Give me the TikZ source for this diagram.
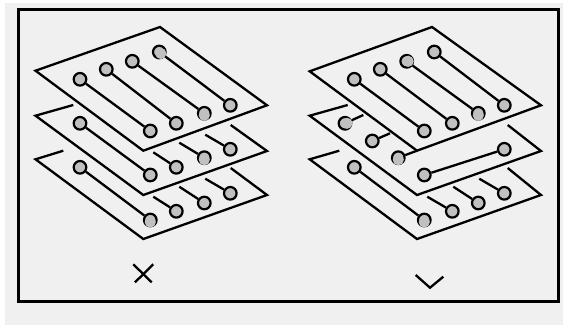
\documentclass[tikz,border=0pt]{standalone}
\usetikzlibrary{arrows.meta}

\begin{document}
\begin{tikzpicture}[
  x=1pt, y=-1pt,
  edge line/.style = {draw=black, line width=2.3pt, line join=miter},
  trace/.style     = {draw=black, line width=2.3pt, line cap=butt},
  frame line/.style= {draw=black, line width=3pt},
  pin disc/.style  = {circle, draw=black, fill=pin gray, line width=2.2pt,
                      minimum size=12.6pt, inner sep=0pt},
  lit disc/.style  = {fill=pin gray},
  mark line/.style = {draw=black, line width=2.3pt},
]
\definecolor{pin gray}{HTML}{C0C0C0}
\definecolor{panel gray}{HTML}{F0F0F0}

% ── Page and frame ─────────────────────────────────────────────────────────
\useasboundingbox (0,0) rectangle (563,325);
\fill[panel gray] (5,3) rectangle (563,325);
\draw[frame line] (18.5,9.5) rectangle (558.5,301.5);

% ── Plane outlines ─────────────────────────────────────────────────────────
% Left stack: three sheets, 44 px apart
\coordinate (la) at (35.5,70.7);
\coordinate (lb) at (160,27);
\coordinate (lc) at (267,105.3);
\coordinate (ld) at (143.3,150.7);
\draw[edge line] (la) -- (lb) -- (lc) -- (ld) -- cycle;

\coordinate (lma) at (73.3,105);
\coordinate (lmb) at (35.5,115.7);
\coordinate (lmc) at (143.3,195);
\coordinate (lmd) at (267,151);
\coordinate (lme) at (230.7,125);
\draw[edge line] (lma) -- (lmb) -- (lmc) -- (lmd) -- (lme);

\coordinate (lba) at (63.3,150.7);
\coordinate (lbb) at (35.5,159.3);
\coordinate (lbc) at (143.3,239);
\coordinate (lbd) at (267,195);
\coordinate (lbe) at (230.7,168);
\draw[edge line] (lba) -- (lbb) -- (lbc) -- (lbd) -- (lbe);

% Right stack
\coordinate (ra) at (309.7,71.3);
\coordinate (rb) at (432,27);
\coordinate (rc) at (541,105.3);
\coordinate (rd) at (417,150.7);
\draw[edge line] (ra) -- (rb) -- (rc) -- (rd) -- cycle;

\coordinate (rma) at (347.7,105);
\coordinate (rmb) at (309.7,115.7);
\coordinate (rmc) at (417,195);
\coordinate (rmd) at (541,151);
\coordinate (rme) at (507.7,125);
\draw[edge line] (rma) -- (rmb) -- (rmc) -- (rmd) -- (rme);

\coordinate (rba) at (339.3,150.7);
\coordinate (rbb) at (309.7,159.3);
\coordinate (rbc) at (417,239);
\coordinate (rbd) at (541,195);
\coordinate (rbe) at (507.7,168);
\draw[edge line] (rba) -- (rbb) -- (rbc) -- (rbd) -- (rbe);

% ── Pins ───────────────────────────────────────────────────────────────────
\foreach \n/\x/\y in {
  lt1/80/79.3, lt2/106.3/69.3, lt3/132.3/61.3, lt4/159.3/52,
  lu1/150.3/131, lu2/176.3/123.3, lu3/204.3/113.3, lu4/230.3/105.3,
  lm1/80/123.3, lm2/150.3/175, lm3/176.3/167.3, lm4/204.3/157.7, lm5/230.3/149.3,
  ll1/80/167.3, ll2/150.3/220, ll3/176.3/211.3, ll4/204.3/203, ll5/230.3/193.3,
  rt1/354.3/79.3, rt2/380.3/69.3, rt3/406.7/61.3, rt4/434.3/52,
  ru1/424.3/131, ru2/452.3/123.3, ru3/478.3/113.3, ru4/504.3/105.3,
  rm1/345/123.3, rm2/372.3/141, rm3/398.3/157.7, rm4/424.3/175, rm5/504.3/149.3,
  rl1/354.3/167.3, rl2/424.3/220, rl3/452.3/211.3, rl4/478.3/203, rl5/504.3/193.3}
  \node[pin disc] (\n) at (\x,\y) {};

% Lit pins: the grey disc sits low and over the ring
\foreach \n/\dx/\dy in {lt4/1.5/1.5, lu3/0/2, lm4/0/2, ll2/0/2,
  rt3/1.5/0, ru3/0/2, rm1/2/0, rm3/0/2, rl2/0/2}
  \fill[lit disc] ([shift={(\dx,\dy)}]\n.center) circle (5.6pt);

% ── Traces ─────────────────────────────────────────────────────────────────
\foreach \a/\b in {lt1/lu1, lt2/lu2, lt3/lu3, lt4/lu4, lm1/lm2, ll1/ll2,
  rt1/ru1, rt2/ru2, rt3/ru3, rt4/ru4, rm4/rm5, rl1/rl2}
  \draw[trace] (\a) -- (\b);

% Stubs that run out from under the sheet above
\foreach \n/\x/\y/\p in {
  sa/153.3/152.3/lm3, sb/179.3/142.7/lm4, sc/205.3/134.7/lm5,
  sd/153.3/196.7/ll3, se/179.3/186.7/ll4, sf/205.3/178.7/ll5,
  sg/363.3/115/rm1, sh/390/133.3/rm2, si/417/150.7/rm3,
  sj/427.3/196.7/rl3, sk/453.3/186.7/rl4, sl/479.3/178.7/rl5} {
  \coordinate (\n) at (\x,\y);
  \draw[trace] (\n) -- (\p);
}

% ── Cross and check ────────────────────────────────────────────────────────
\coordinate (xa) at (133.3,264.3);
\coordinate (xb) at (151.7,282.3);
\coordinate (xc) at (153.3,264.3);
\coordinate (xd) at (135,282.3);
\draw[mark line] (xa) -- (xb);
\draw[mark line] (xc) -- (xd);

\coordinate (ca) at (415.7,275);
\coordinate (cb) at (430,287.7);
\coordinate (cc) at (443.3,276.7);
\draw[mark line] (ca) -- (cb) -- (cc);

\end{tikzpicture}
\end{document}
